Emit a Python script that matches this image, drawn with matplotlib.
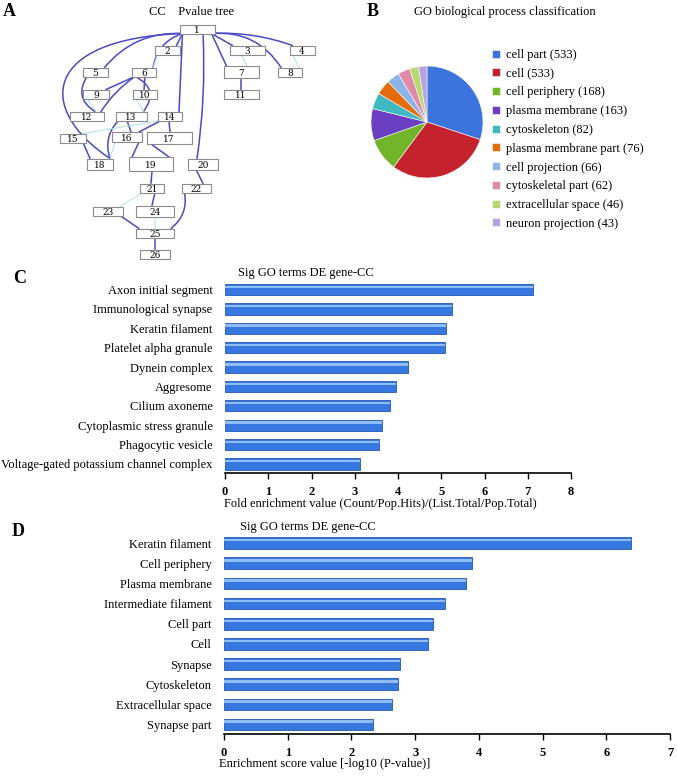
import numpy as np
import matplotlib
matplotlib.use("Agg")
import matplotlib.pyplot as plt
from matplotlib.patches import Rectangle, FancyArrowPatch, PathPatch
from matplotlib.path import Path

plt.rcParams['font.family'] = ['Liberation Serif', 'DejaVu Serif']

# ---------------- data ----------------
# panel B
pie_labels = ["cell part", "cell", "cell periphery", "plasma membrane", "cytoskeleton",
              "plasma membrane part", "cell projection", "cytoskeletal part",
              "extracellular space", "neuron projection"]
pie_counts = [533, 533, 168, 163, 82, 76, 66, 62, 46, 43]
pie_colors = ["#3a74dc", "#c4232d", "#72b52a", "#6a3fc2", "#3fb8c0",
              "#e46c0a", "#8db4e6", "#e08aa8", "#b5da72", "#b7a3e0"]

# panel C
fold_terms = ["Axon initial segment", "Immunological synapse", "Keratin filament",
              "Platelet alpha granule", "Dynein complex", "Aggresome", "Cilium axoneme",
              "Cytoplasmic stress granule", "Phagocytic vesicle",
              "Voltage-gated potassium channel complex"]
fold_values = [7.11, 5.25, 5.12, 5.08, 4.23, 3.95, 3.82, 3.64, 3.56, 3.13]

# panel D
score_terms = ["Keratin filament", "Cell periphery", "Plasma membrane", "Intermediate filament",
               "Cell part", "Cell", "Synapse", "Cytoskeleton", "Extracellular space",
               "Synapse part"]
score_values = [6.39, 3.89, 3.80, 3.47, 3.28, 3.20, 2.76, 2.73, 2.63, 2.34]

# panel A: tree layout (x, y, w, h) in pixel units of the panel
tree_nodes = {
    1: (197, 29, 35, 9), 2: (167, 50, 25, 9), 3: (247, 50, 35, 9), 4: (302, 50, 25, 9),
    5: (95, 72, 25, 9), 6: (144, 72, 24, 9), 7: (241, 72, 35, 12), 8: (290, 72, 24, 9),
    9: (96, 94, 26, 9), 10: (145, 94, 24, 9), 11: (241, 94, 35, 9),
    12: (87, 116, 34, 9), 13: (131, 116, 31, 9), 14: (170, 116, 24, 9),
    15: (73, 138, 26, 9), 16: (127, 137, 30, 10), 17: (169, 138, 45, 12),
    18: (100, 164, 26, 11), 19: (151, 164, 44, 14), 20: (203, 164, 30, 11),
    21: (152, 188, 24, 9), 22: (196, 188, 29, 9),
    23: (108, 211, 30, 9), 24: (155, 211, 38, 11), 25: (155, 233, 38, 9), 26: (155, 254, 30, 9),
}
# (parent, child, significant)
tree_edges = [
    (1, 2, True), (1, 3, True), (1, 4, True), (1, 5, True), (1, 6, True), (1, 7, True),
    (1, 8, True), (1, 14, True), (1, 18, True), (1, 20, True),
    (2, 6, False), (3, 7, False), (4, 8, False),
    (5, 12, True), (6, 9, True), (6, 10, True), (6, 12, True), (6, 13, True),
    (7, 11, True), (9, 12, False), (10, 13, False),
    (13, 16, True), (13, 18, True), (14, 15, False), (14, 16, True), (14, 17, True),
    (15, 18, True), (16, 18, False), (16, 19, True), (17, 19, True),
    (19, 21, True), (20, 22, True), (21, 23, False), (21, 24, True),
    (22, 25, True), (23, 25, True), (24, 25, False), (25, 26, True),
]
edge_bend = {(1, 5): 0.25, (1, 6): 0.3, (1, 8): -0.3, (1, 4): -0.1, (1, 20): -0.05,
             (5, 12): 0.5, (6, 12): 0.1, (6, 13): -0.6, (13, 18): 0.3, (22, 25): -0.3}

W, H = 677, 776
fig = plt.figure(figsize=(W / 100, H / 100), dpi=100)


def fx(px):
    return px / W


def fy(py):
    return 1 - py / H


# ---------------- panel A ----------------
axA = fig.add_axes([0, fy(265), fx(330), 265 / H])
axA.set_xlim(0, 330)
axA.set_ylim(265, 0)
axA.axis('off')

for p, c, sig in tree_edges:
    px, py, pw, ph = tree_nodes[p]
    cx, cy, cw, chh = tree_nodes[c]
    sx = np.clip(cx, px - pw / 2 + 3, px + pw / 2 - 3)
    ex = np.clip(px, cx - cw / 2 + 3, cx + cw / 2 - 3)
    sy, ey = py + ph / 2, cy - chh / 2
    col = '#4a4ac4' if sig else '#a8e4e4'
    lw = 1.1 if sig else 0.7
    if (p, c) == (1, 18):
        # long detour round the left side of the tree
        path = Path([(sx, sy), (sx - 140, sy + 5), (ex - 75, ey - 50), (ex, ey)],
                    [Path.MOVETO, Path.CURVE4, Path.CURVE4, Path.CURVE4])
        axA.add_patch(PathPatch(path, facecolor='none', edgecolor=col, lw=lw, zorder=1))
        continue
    rad = edge_bend.get((p, c), 0.0)
    arr = FancyArrowPatch((sx, sy), (ex, ey), arrowstyle='-',
                          connectionstyle=f"arc3,rad={rad}", shrinkA=0, shrinkB=0,
                          color=col, lw=lw, zorder=1)
    axA.add_patch(arr)

for n, (x, y, w, h) in tree_nodes.items():
    axA.add_patch(Rectangle((x - w / 2, y - h / 2), w, h, facecolor='white',
                            edgecolor='#8a8a8a', lw=0.8, zorder=2))
    axA.text(x, y + 3.6, str(n), ha='center', va='baseline', fontsize=6.5,
             family='DejaVu Serif', zorder=3)

fig.text(fx(3), fy(12), "A", fontsize=13, fontweight='bold', va='center')
fig.text(fx(149), fy(12), "CC    Pvalue tree", fontsize=9, va='center')

# ---------------- panel B ----------------
axB = fig.add_axes([fx(371), fy(178), fx(112), 112 / H])
wedges, _ = axB.pie(pie_counts, colors=pie_colors, startangle=90, counterclock=False,
                    wedgeprops=dict(edgecolor='white', linewidth=0.4))
axB.set_xlim(-1, 1)
axB.set_ylim(-1, 1)

fig.text(fx(367), fy(12), "B", fontsize=13, fontweight='bold', va='center')
fig.text(fx(505), fy(12), "GO biological process classification", fontsize=9,
         ha='center', va='center')
fig.legend(wedges, [f"{l} ({n})" for l, n in zip(pie_labels, pie_counts)],
           loc='upper left', bbox_to_anchor=(fx(492), fy(49)), frameon=False,
           fontsize=9, handlelength=0.6, handleheight=0.6, handletextpad=0.5,
           labelspacing=0.54, borderpad=0, borderaxespad=0)


# ---------------- bar panels ----------------
def bar_panel(rect, terms, values, xmax):
    ax = fig.add_axes(rect)
    ypos = np.arange(len(terms))
    ax.barh(ypos, values, height=0.58, color='#3677e0', edgecolor='#2456b4', lw=0.6)
    ax.barh(ypos - 0.14, values, height=0.12, color='#8fbdf7', lw=0)
    ax.set_ylim(len(terms) - 0.53, -0.6)
    ax.set_xlim(0, xmax)
    ax.set_yticks(ypos)
    ax.set_yticklabels(terms, fontsize=9)
    ax.tick_params(axis='y', length=0, pad=9)
    ax.set_xticks(range(0, xmax + 1))
    ax.tick_params(axis='x', direction='out', length=4, width=1, labelsize=9, pad=5)
    for lab in ax.get_xticklabels():
        lab.set_fontweight('bold')
    for s in ['top', 'right', 'left']:
        ax.spines[s].set_visible(False)
    ax.spines['bottom'].set_linewidth(1.2)
    return ax


bar_panel([fx(225), fy(473), fx(346), 195 / H], fold_terms, fold_values, 8)
fig.text(fx(13), fy(278), "C", fontsize=13, fontweight='bold', va='center')
fig.text(fx(238), fy(273), "Sig GO terms DE gene-CC", fontsize=9, va='center')
fig.text(fx(224), fy(504), "Fold enrichment value (Count/Pop.Hits)/(List.Total/Pop.Total)",
         fontsize=9, va='center')

bar_panel([fx(224), fy(734), fx(446), 203 / H], score_terms, score_values, 7)
fig.text(fx(12), fy(532), "D", fontsize=13, fontweight='bold', va='center')
fig.text(fx(240), fy(527), "Sig GO terms DE gene-CC", fontsize=9, va='center')
fig.text(fx(219), fy(764), "Enrichment score value [-log10 (P-value)]", fontsize=9,
         va='center')

fig.savefig("out.png", dpi=100)
